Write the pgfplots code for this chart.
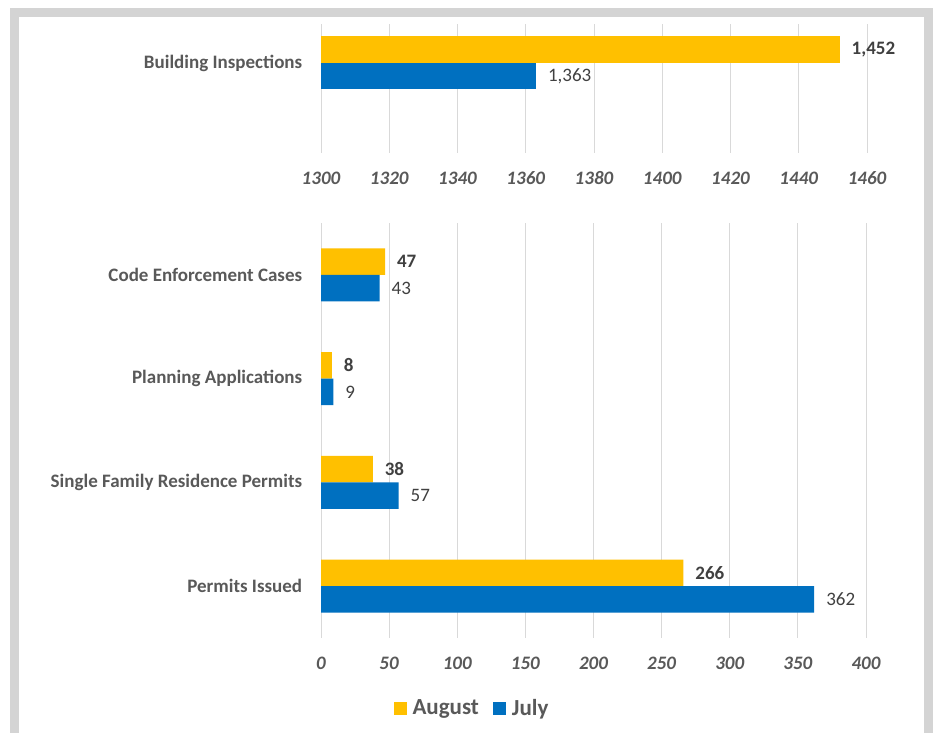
\documentclass[border=0pt]{standalone}
\usepackage{pgfplots}
\pgfplotsset{compat=1.18}
\usepackage{fontspec}
\setmainfont{Carlito}
\definecolor{aug}{HTML}{FFC000}
\definecolor{jul}{HTML}{0070C0}
\definecolor{gridc}{HTML}{D9D9D9}
\definecolor{txt}{HTML}{595959}
\definecolor{val}{HTML}{404040}
\definecolor{framec}{HTML}{D4D4D4}
\pgfplotsset{
  common/.style={
    scale only axis, anchor=south west, xbar, clip mode=individual,
    axis line style={draw=none}, tick style={draw=none},
    xmajorgrids, major grid style={gridc, line width=1pt},
    /pgf/number format/assume math mode=true,
    /pgf/number format/1000 sep={},
    xticklabel style={font=\fontsize{19}{22}\selectfont\bfseries\itshape, text=txt,
      text height=12pt, text depth=0pt, yshift=-15.5pt},
    yticklabel style={font=\fontsize{19}{22}\selectfont\bfseries, text=txt, xshift=-11pt},
    bar width=26.5pt,
  },
  augstyle/.style={fill=aug, draw=none, bar shift=13.25pt,
    nodes near coords={\pgfmathprintnumber[assume math mode=true,1000 sep={,}]{\pgfplotspointmeta}},
    every node near coord/.append style={font=\fontsize{19}{22}\selectfont\bfseries, text=val, xshift=8.5pt}},
  julstyle/.style={fill=jul, draw=none, bar shift=-13.25pt,
    nodes near coords={\pgfmathprintnumber[assume math mode=true,1000 sep={,}]{\pgfplotspointmeta}},
    every node near coord/.append style={font=\fontsize{19}{22}\selectfont, text=val, xshift=8.5pt}},
}
\begin{document}
\begin{tikzpicture}
\path[use as bounding box] (0pt,0pt) rectangle (936pt,733pt);
\fill[framec] (10pt,0pt) rectangle (933pt,725pt);
\fill[white] (19pt,0pt) rectangle (924pt,716pt);
% top axis
\begin{axis}[common, at={(321pt,580pt)}, width=546pt, height=129pt,
  xmin=1300, xmax=1460, xtick={1300,1320,...,1460},
  ymin=-90, ymax=39, ytick={0}, yticklabels={Building Inspections}]
\addplot[augstyle] coordinates {(1452,0)};
\addplot[julstyle] coordinates {(1363,0)};
\end{axis}
% bottom axis
\begin{axis}[common, at={(321pt,95pt)}, width=545pt, height=415pt,
  xmin=0, xmax=400, xtick={0,50,...,400},
  ymin=-0.5, ymax=3.5, ytick={0,1,2,3},
  yticklabels={Permits Issued, Single Family Residence Permits, Planning Applications, Code Enforcement Cases},
  legend style={at={(0.277,-0.169)}, anchor=center, draw=none, fill=none,
    font=\fontsize{23}{26}\selectfont\bfseries, text=txt,
    /tikz/every odd column/.append style={column sep=4pt},
    /tikz/every even column/.append style={column sep=12pt}},
  legend columns=2,
  legend image code/.code={\fill[#1] (0pt,-6.5pt) rectangle (13pt,6.5pt);}]
\addplot[augstyle] coordinates {(266,0) (38,1) (8,2) (47,3)};
\addplot[julstyle] coordinates {(362,0) (57,1) (9,2) (43,3)};
\legend{August, July}
\end{axis}
\end{tikzpicture}
\end{document}
